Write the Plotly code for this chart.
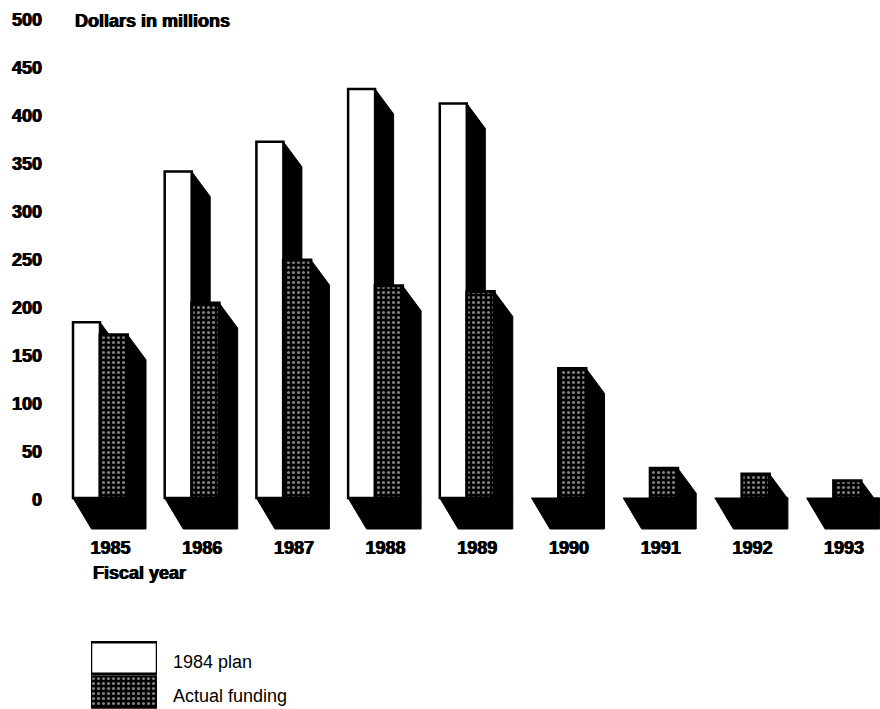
import plotly.graph_objects as go

years = [1985, 1986, 1987, 1988, 1989, 1990, 1991, 1992, 1993]
plan_1984 = [183, 340, 371, 426, 411, None, None, None, None]
actual_funding = [170, 203, 248, 221, 215, 135, 31, 25, 18]
y_ticks = [0, 50, 100, 150, 200, 250, 300, 350, 400, 450, 500]
legend_names = ["1984 plan", "Actual funding"]

W, H = 880, 709
PX_X = 91.7          # pixels per year
PX_Y = 0.96          # pixels per dollar-million
ZERO_PX = 498
LEFT, BOTTOM = 46, 535
X0_PX = 110.5        # pixel of the 1985 tick

to_x = lambda px: px / PX_X
to_y = lambda px: px / PX_Y

plan_l, mid, act_r = to_x(-37.5), to_x(-10.5), to_x(17)
dx = to_x(18.5)
top_d = to_y(25)
floor_d = to_y(31)
x_range = [years[0] + (LEFT - X0_PX) / PX_X, years[0] + (W - X0_PX) / PX_X]
y_range = [(ZERO_PX - BOTTOM) / PX_Y, ZERO_PX / PX_Y]
FONT = "Liberation Sans"
HEAVY = "0.5px 0 0 black, -0.5px 0 0 black"


def poly(points):
    d = "M" + " L".join(f"{a:.4f},{b:.4f}" for a, b in points) + " Z"
    return dict(type="path", path=d, xref="x", yref="y", layer="below",
                fillcolor="black", line=dict(color="black", width=1))


shapes = []
for yr, p, a in zip(years, plan_1984, actual_funding):
    # floor
    shapes.append(poly([(yr + plan_l, 0), (yr + plan_l + dx, -floor_d),
                        (yr + act_r + dx, -floor_d), (yr + act_r + dx, 0), (yr + act_r, 0)]))
    # side faces
    if p is not None:
        shapes.append(poly([(yr + mid, p), (yr + mid + dx, p - top_d),
                            (yr + mid + dx, 0), (yr + mid, 0)]))
    shapes.append(poly([(yr + act_r, a), (yr + act_r + dx, a - top_d),
                        (yr + act_r + dx, 0), (yr + act_r, 0)]))

dots = dict(shape=".", bgcolor="black", fgcolor="white", size=5, solidity=0.3)

fig = go.Figure()
fig.add_trace(go.Bar(x=years, y=plan_1984, width=mid - plan_l, offset=plan_l,
                     marker=dict(color="white", line=dict(color="black", width=2.5)),
                     cliponaxis=False, name=legend_names[0]))
fig.add_trace(go.Bar(x=years, y=actual_funding, width=act_r - mid, offset=mid,
                     marker=dict(color="black", pattern=dots, line=dict(color="black", width=3)),
                     cliponaxis=False, name=legend_names[1]))
# key, drawn as its own small subplot
fig.add_trace(go.Bar(x=[1], y=[legend_names[0]], orientation="h", width=0.92, xaxis="x2", yaxis="y2",
                     marker=dict(color="white", line=dict(color="black", width=2.5))))
fig.add_trace(go.Bar(x=[1], y=[legend_names[1]], orientation="h", width=0.92, xaxis="x2", yaxis="y2",
                     marker=dict(color="black", pattern=dots, line=dict(color="black", width=2))))

bold = dict(family=FONT, size=18, color="black", weight="bold", shadow=HEAVY)
fig.update_layout(
    width=W, height=H, margin=dict(l=0, r=0, t=0, b=0, pad=0, autoexpand=False),
    paper_bgcolor="white", plot_bgcolor="white", showlegend=False,
    barmode="overlay", shapes=shapes,
    xaxis=dict(domain=[LEFT / W, 1], range=x_range, tickvals=years, ticktext=[str(y) for y in years],
               showgrid=False, zeroline=False, showline=False, ticks="", tickfont=bold,
               ticklabelstandoff=0),
    yaxis=dict(domain=[(H - BOTTOM) / H, 1], range=y_range, tickvals=y_ticks,
               showgrid=False, zeroline=False, showline=False, ticks="", tickfont=bold,
               ticklabelstandoff=3, ticklabelshift=2),
    xaxis2=dict(domain=[91 / W, 157 / W], range=[0, 1], anchor="y2", visible=False),
    yaxis2=dict(domain=[0, 68 / H], range=[1.5, -0.5], anchor="x2", side="right", type="category",
                categoryarray=legend_names, showgrid=False, zeroline=False, showline=False, ticks="",
                tickfont=dict(family=FONT, size=18, color="black"), ticklabelstandoff=15,
                ticklabelshift=-4),
    annotations=[
        dict(text="Dollars in millions", xref="paper", yref="paper", x=73 / W, y=1 - 21 / H,
             xanchor="left", yanchor="middle", showarrow=False, font=bold),
        dict(text="Fiscal year", xref="paper", yref="paper", x=91 / W, y=1 - 573 / H,
             xanchor="left", yanchor="middle", showarrow=False, font=bold),
    ],
)
fig.write_html("out.html", post_script="document.body.style.margin='0';",
               config={"displayModeBar": False})
